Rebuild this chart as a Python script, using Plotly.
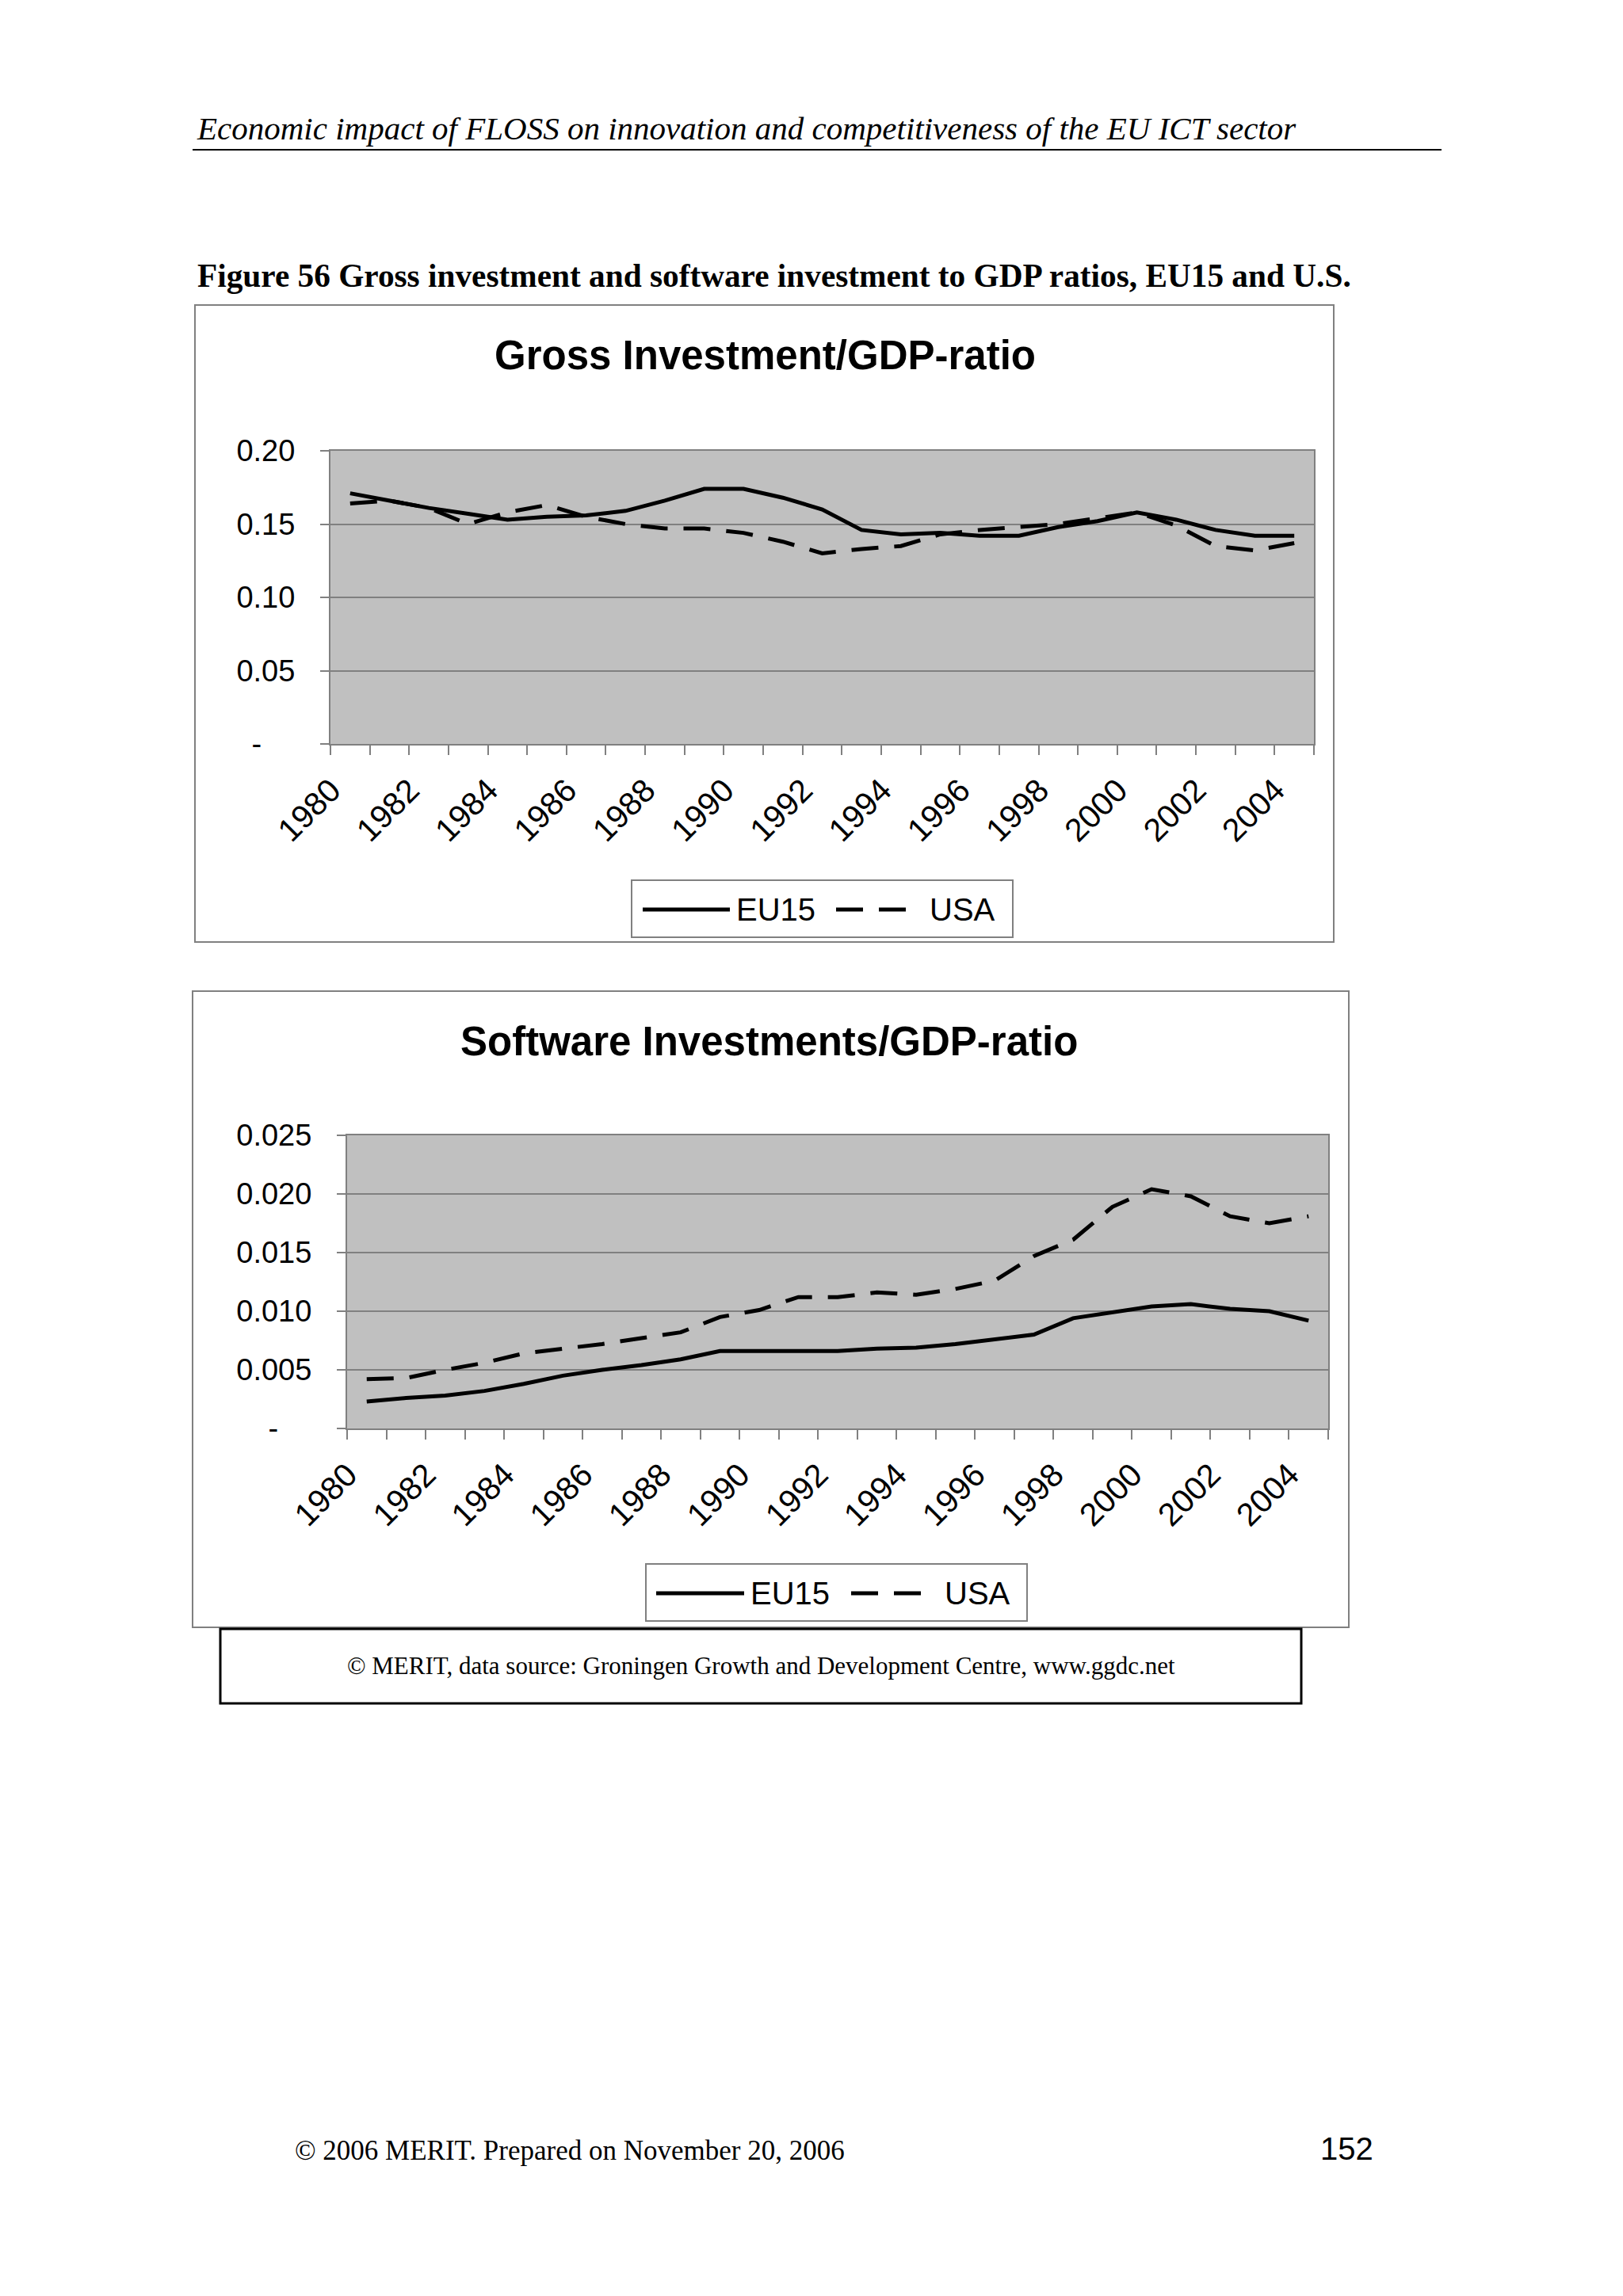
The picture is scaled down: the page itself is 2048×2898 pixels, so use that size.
import plotly.graph_objects as go

W, H = 2048, 2898
OFF = 8  # the page body adds an 8px margin

# data (1980-2004)
years = list(range(1980, 2005))
year_labels = [str(y) for y in years[::2]]

gross_eu15 = [0.171, 0.166, 0.161, 0.157, 0.153, 0.155, 0.156, 0.159, 0.166, 0.174,
              0.174, 0.168, 0.160, 0.146, 0.143, 0.144, 0.142, 0.142, 0.148, 0.152,
              0.158, 0.153, 0.146, 0.142, 0.142]
gross_usa = [0.164, 0.166, 0.161, 0.150, 0.158, 0.163, 0.155, 0.150, 0.147, 0.147,
             0.144, 0.138, 0.130, 0.133, 0.135, 0.143, 0.146, 0.148, 0.150, 0.154,
             0.158, 0.149, 0.135, 0.132, 0.137]

soft_eu15 = [0.0023, 0.0026, 0.0028, 0.0032, 0.0038, 0.0045, 0.0050, 0.0054, 0.0059, 0.0066,
             0.0066, 0.0066, 0.0066, 0.0068, 0.0069, 0.0072, 0.0076, 0.0080, 0.0094, 0.0099,
             0.0104, 0.0106, 0.0102, 0.0100, 0.0092]
soft_usa = [0.0042, 0.0043, 0.0050, 0.0056, 0.0064, 0.0068, 0.0072, 0.0077, 0.0082, 0.0095,
            0.0101, 0.0112, 0.0112, 0.0116, 0.0114, 0.0119, 0.0126, 0.0147, 0.0161, 0.0189,
            0.0204, 0.0198, 0.0181, 0.0175, 0.0181]

gross_ticks = [0, 0.05, 0.10, 0.15, 0.20]
gross_ticktext = ["-\u2007\u2007", "0.05", "0.10", "0.15", "0.20"]
soft_ticks = [0, 0.005, 0.010, 0.015, 0.020, 0.025]
soft_ticktext = ["-\u2007\u2007", "0.005", "0.010", "0.015", "0.020", "0.025"]


def px(x):
    return (x - OFF) / W


def py(y):
    return 1 - (y - OFF) / H


SANS = "Liberation Sans, Arial, sans-serif"
SERIF = "Liberation Serif, Times New Roman, serif"
GREY = "#808080"
USA_DASH = "34px,20px"

fig = go.Figure()

fig.add_trace(go.Scatter(x=years, y=gross_eu15, mode="lines", name="EU15",
                         line=dict(color="black", width=5), xaxis="x", yaxis="y", showlegend=False))
fig.add_trace(go.Scatter(x=years, y=gross_usa, mode="lines", name="USA",
                         line=dict(color="black", width=5, dash=USA_DASH), xaxis="x", yaxis="y", showlegend=False))
fig.add_trace(go.Scatter(x=years, y=soft_eu15, mode="lines", name="EU15",
                         line=dict(color="black", width=5), xaxis="x2", yaxis="y2", showlegend=False))
fig.add_trace(go.Scatter(x=years, y=soft_usa, mode="lines", name="USA",
                         line=dict(color="black", width=5, dash=USA_DASH), xaxis="x2", yaxis="y2", showlegend=False))

xcommon = dict(
    range=[years[0] - 0.5, years[-1] + 0.5],
    tickmode="array", tickvals=years[::2], ticktext=year_labels,
    tickangle=-45, ticks="", showgrid=False, zeroline=False,
    showline=True, linecolor=GREY, linewidth=2, mirror=True,
    tickfont=dict(family=SANS, size=41, color="black"),
    ticklabelstandoff=16, ticklabelshift=-24,
    minor=dict(tickmode="array", tickvals=[y - 0.5 for y in years] + [years[-1] + 0.5],
               ticks="outside", ticklen=12, tickwidth=2, tickcolor=GREY, showgrid=False),
    automargin=False, fixedrange=True,
)
ycommon = dict(
    tickmode="array", ticks="outside", ticklen=11, tickwidth=2, tickcolor=GREY,
    showgrid=True, gridcolor=GREY, gridwidth=1.5, zeroline=False,
    showline=True, linecolor=GREY, linewidth=2, mirror=True,
    tickfont=dict(family=SANS, size=38, color="black"),
    ticklabelstandoff=24, automargin=False, fixedrange=True,
)

fig.update_layout(
    width=W, height=H, autosize=False,
    margin=dict(l=0, r=0, t=0, b=0),
    paper_bgcolor="white", plot_bgcolor="#C0C0C0",
    xaxis=dict(domain=[px(417), px(1658)], anchor="y", **xcommon),
    yaxis=dict(domain=[py(939), py(569)], anchor="x", range=[0, 0.20],
               tickvals=gross_ticks, ticktext=gross_ticktext, **ycommon),
    xaxis2=dict(domain=[px(438), px(1676)], anchor="y2", **xcommon),
    yaxis2=dict(domain=[py(1803), py(1433)], anchor="x2", range=[0, 0.025],
                tickvals=soft_ticks, ticktext=soft_ticktext, **ycommon),
)

shapes = []
# page header rule
shapes.append(dict(type="line", xref="paper", yref="paper", x0=px(243), x1=px(1819), y0=py(189), y1=py(189),
                   line=dict(color="black", width=2)))
# chart frames
shapes.append(dict(type="rect", xref="paper", yref="paper", x0=px(246), x1=px(1683), y0=py(1189), y1=py(385),
                   line=dict(color=GREY, width=2), layer="below"))
shapes.append(dict(type="rect", xref="paper", yref="paper", x0=px(243), x1=px(1702), y0=py(2054), y1=py(1251),
                   line=dict(color=GREY, width=2), layer="below"))
# source box
shapes.append(dict(type="rect", xref="paper", yref="paper", x0=px(278), x1=px(1642), y0=py(2150), y1=py(2056),
                   line=dict(color="black", width=3)))

annotations = []


def legend_box(x0, y0, x1, y1, eu_x0, eu_x1, usa_x0, usa_x1, ymid, eu_text_x, usa_text_x):
    shapes.append(dict(type="rect", xref="paper", yref="paper", x0=px(x0), x1=px(x1), y0=py(y1), y1=py(y0),
                       line=dict(color=GREY, width=2), fillcolor="white"))
    shapes.append(dict(type="line", xref="paper", yref="paper", x0=px(eu_x0), x1=px(eu_x1), y0=py(ymid), y1=py(ymid),
                       line=dict(color="black", width=5)))
    shapes.append(dict(type="line", xref="paper", yref="paper", x0=px(usa_x0), x1=px(usa_x1), y0=py(ymid), y1=py(ymid),
                       line=dict(color="black", width=5, dash=USA_DASH)))
    annotations.append(dict(text="EU15", xref="paper", yref="paper", x=px(eu_text_x), y=py(ymid),
                            xanchor="left", yanchor="middle", showarrow=False,
                            font=dict(family=SANS, size=40, color="black")))
    annotations.append(dict(text="USA", xref="paper", yref="paper", x=px(usa_text_x), y=py(ymid),
                            xanchor="left", yanchor="middle", showarrow=False,
                            font=dict(family=SANS, size=40, color="black")))


legend_box(797, 1111, 1278, 1183, 811, 921, 1055, 1148, 1148, 927, 1171)
legend_box(815, 1974, 1296, 2046, 828, 939, 1074, 1165, 2011, 945, 1190)

annotations += [
    dict(text="<i>Economic impact of FLOSS on innovation and competitiveness of the EU ICT sector</i>",
         x=px(246), y=py(162), xanchor="left", yanchor="middle",
         font=dict(family=SERIF, size=41, color="black")),
    dict(text="<b>Figure 56 Gross investment and software investment to GDP ratios, EU15 and U.S.</b>",
         x=px(247), y=py(348), xanchor="left", yanchor="middle",
         font=dict(family=SERIF, size=41.3, color="black")),
    dict(text="<b>Gross Investment/GDP-ratio</b>", x=px(965), y=py(448), xanchor="center", yanchor="middle",
         font=dict(family=SANS, size=51, color="black")),
    dict(text="<b>Software Investments/GDP-ratio</b>", x=px(970), y=py(1314), xanchor="center", yanchor="middle",
         font=dict(family=SANS, size=51, color="black")),
    dict(text="© MERIT, data source: Groningen Growth and Development Centre, www.ggdc.net",
         x=px(960), y=py(2102), xanchor="center", yanchor="middle",
         font=dict(family=SERIF, size=31, color="black")),
    dict(text="© 2006 MERIT. Prepared on November 20, 2006", x=px(370), y=py(2714), xanchor="left", yanchor="middle",
         font=dict(family=SERIF, size=35, color="black")),
    dict(text="152", x=px(1735), y=py(2712), xanchor="right", yanchor="middle",
         font=dict(family=SANS, size=40, color="black")),
]
for a in annotations:
    a.setdefault("xref", "paper")
    a.setdefault("yref", "paper")
    a["showarrow"] = False

fig.update_layout(shapes=shapes, annotations=annotations)

fig.write_html("out.html")
